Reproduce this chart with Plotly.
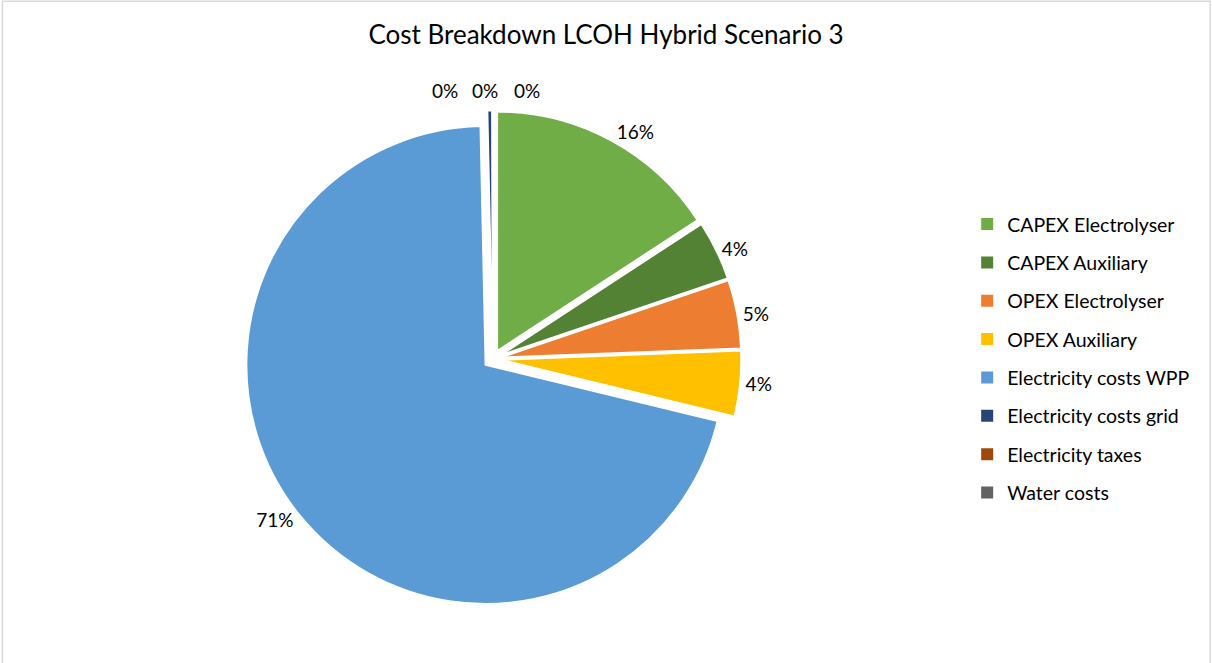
import plotly.graph_objects as go

# Cost components of the levelised cost of hydrogen (share of total, %)
categories = [
    "CAPEX Electrolyser",
    "CAPEX Auxiliary",
    "OPEX Electrolyser",
    "OPEX Auxiliary",
    "Electricity costs WPP",
    "Electricity costs grid",
    "Electricity taxes",
    "Water costs",
]
shares = [15.8, 4.0, 4.6, 4.4, 70.9, 0.3, 0.02, 0.02]
colors = ["#70AD47", "#548235", "#ED7D31", "#FFC000",
          "#5B9BD5", "#264478", "#9E480E", "#636363"]

FONT = "Lato"
LABEL_SIZE = 19

# Slices too thin for a readable outside label get a separate label row above the pie
n_main = 5
slice_text = ["%{percent:.0%}"] * n_main + [""] * (len(shares) - n_main)

fig = go.Figure()

fig.add_trace(go.Pie(
    labels=categories,
    values=shares,
    sort=False,
    direction="clockwise",
    rotation=0,
    pull=0.04,
    marker=dict(colors=colors, line=dict(color="white", width=1.5)),
    texttemplate=slice_text,
    textposition="outside",
    textfont=dict(family=FONT, size=LABEL_SIZE, color="#000000"),
    outsidetextfont=dict(family=FONT, size=LABEL_SIZE, color="#000000"),
    domain=dict(x=[0.2016, 0.6116], y=[0.084, 0.833]),
    showlegend=False,
    hoverinfo="label+percent",
))

# Labels for the near-zero slices, laid out side by side
total = sum(shares)
small_x = [0.367, 0.400, 0.435]
annotations = []
for xpos, v in zip(small_x, shares[n_main:]):
    annotations.append(dict(
        x=xpos, y=0.864, xref="paper", yref="paper",
        text=f"{round(100 * v / total)}%", showarrow=False,
        font=dict(family=FONT, size=LABEL_SIZE, color="#000000"),
        xanchor="center", yanchor="middle",
    ))

# Legend entries: one square marker per cost component
for name, col in zip(categories, colors):
    fig.add_trace(go.Scatter(
        x=[None], y=[None], mode="markers", name=name,
        legendgroup=name,
        marker=dict(symbol="square", size=10, color=col),
    ))

fig.update_layout(
    width=1212,
    height=663,
    paper_bgcolor="white",
    plot_bgcolor="white",
    margin=dict(l=0, r=0, t=0, b=0),
    title=dict(
        text="Cost Breakdown LCOH Hybrid Scenario 3",
        x=0.5, xanchor="center",
        y=0.947, yanchor="middle",
        font=dict(family=FONT, size=26, color="#000000"),
    ),
    xaxis=dict(visible=False),
    yaxis=dict(visible=False),
    legend=dict(
        x=0.798, xanchor="left",
        y=0.691, yanchor="top",
        font=dict(family=FONT, size=19.5, color="#000000"),
        tracegroupgap=10,
        itemsizing="constant",
        bgcolor="rgba(0,0,0,0)",
    ),
    annotations=annotations,
    shapes=[dict(
        type="rect", xref="paper", yref="paper",
        x0=0.002, x1=0.9985, y0=-0.1, y1=0.998,
        line=dict(color="#D9D9D9", width=1.5),
        fillcolor="rgba(0,0,0,0)", layer="below",
    )],
)

fig.write_html("out.html")
